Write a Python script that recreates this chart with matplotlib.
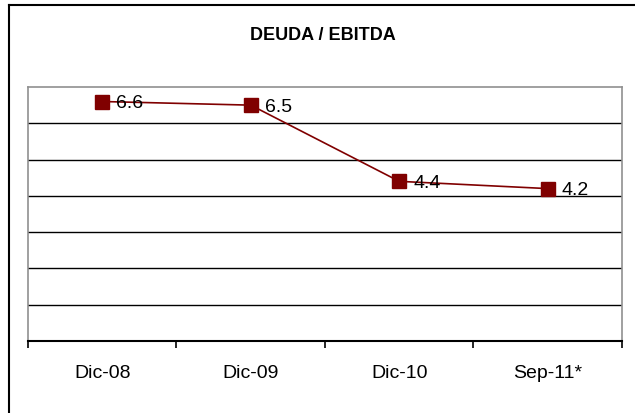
import matplotlib
matplotlib.use("Agg")
import matplotlib.pyplot as plt
from matplotlib.lines import Line2D

categories = ["Dic-08", "Dic-09", "Dic-10", "Sep-11*"]
values = [6.6, 6.5, 4.4, 4.2]
labels = ["6.6", "6.5", "4.4", "4.2"]

plt.rcParams['font.family'] = ['Liberation Sans', 'DejaVu Sans']

W, H = 635, 413
fig = plt.figure(figsize=(W/100, H/100), dpi=100)
ax = fig.add_axes([28/W, 1 - 341/H, (622-28)/W, (341-87)/H])

x = list(range(len(categories)))
ax.plot(x, values, color='#800000', lw=1.2, marker='s', ms=9.5,
        markerfacecolor='#800000', markeredgecolor='#800000', zorder=5)
for xi, v, t in zip(x, values, labels):
    ax.annotate(t, (xi, v), xytext=(10, -1.5), textcoords='offset points',
                ha='left', va='center', fontsize=14, color='black', zorder=6)

ax.set_xlim(-0.5, len(categories) - 0.5)
ax.set_ylim(0, 7)
ax.set_yticks(range(1, 7))
ax.yaxis.grid(True, color='black', lw=1.0)
ax.tick_params(axis='y', left=False, labelleft=False)
ax.set_xticks(x)
ax.set_xticklabels(categories, fontsize=14)
ax.set_xticks([i - 0.5 for i in range(len(categories) + 1)], minor=True)
ax.tick_params(axis='x', which='major', length=0, pad=17.5)
ax.tick_params(axis='x', which='minor', length=5, width=1.2, direction='out', color='black')
ax.set_axisbelow(True)
for s in ['left', 'top', 'right']:
    ax.spines[s].set_color('#909090')
    ax.spines[s].set_linewidth(1.2)
ax.spines['bottom'].set_color('black')
ax.spines['bottom'].set_linewidth(1.5)

fig.text(323/W, 1 - 35/H, "DEUDA / EBITDA", ha='center', va='center',
         fontsize=13, fontweight='bold')

# outer border (left and top)
fig.add_artist(Line2D([9/W, 9/W], [0, 1 - 5/H], transform=fig.transFigure, color='black', lw=1.5))
fig.add_artist(Line2D([9/W, 1], [1 - 5/H, 1 - 5/H], transform=fig.transFigure, color='black', lw=1.5))

fig.savefig("out.png", dpi=100)
